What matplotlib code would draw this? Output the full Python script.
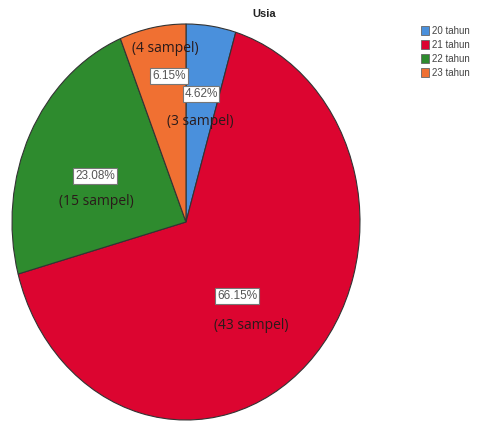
import matplotlib
matplotlib.use("Agg")
import matplotlib.pyplot as plt
from matplotlib.patches import Patch

categories = ["20 tahun", "21 tahun", "22 tahun", "23 tahun"]
counts = [3, 43, 15, 4]
percents = ["4.62%", "66.15%", "23.08%", "6.15%"]
colors = ["#4a90dc", "#dc0530", "#2e8b2e", "#f07032"]

# label anchors in pixels (percent box, count text)
pct_px = [(201, 94), (237, 296), (95, 176), (169, 76)]
cnt_px = [(200, 121), (251, 325), (96, 201), (165, 49)]

W, H = 478, 423
CX, CY, RX, RY = 186, 222, 174, 198

fig = plt.figure(figsize=(W / 100, H / 100), dpi=100)
fig.patch.set_facecolor("white")
ax = fig.add_axes([(CX - RX) / W, (H - CY - RY) / H, 2 * RX / W, 2 * RY / H])
ax.pie(counts, colors=colors, startangle=90, counterclock=False,
       wedgeprops=dict(edgecolor="#333333", linewidth=0.8))
ax.set_aspect("auto")
ax.set_xlim(-1, 1)
ax.set_ylim(-1, 1)
ax.axis("off")


def to_data(px, py):
    return (px - CX) / RX, (CY - py) / RY


for p, n, (px, py), (qx, qy) in zip(percents, counts, pct_px, cnt_px):
    x, y = to_data(px, py)
    ax.text(x, y, p, ha="center", va="center", fontsize=8.5, color="#555555",
            family="Liberation Sans",
            bbox=dict(boxstyle="square,pad=0.15", facecolor="white",
                      edgecolor="#777777", linewidth=0.8))
    x, y = to_data(qx, qy)
    ax.text(x, y, f"({n} sampel)", ha="center", va="center", fontsize=10,
            color="#2a1a1a", family="Open Sans")

fig.text(264 / W, 1 - 14 / H, "Usia", ha="center", va="center",
         fontsize=8, fontweight="bold", color="#222222", family="Liberation Sans")

handles = [Patch(facecolor=c, edgecolor="#666666", linewidth=0.6) for c in colors]
leg = fig.legend(handles, categories, loc="upper left",
                 bbox_to_anchor=(421 / W, 1 - 26 / H), frameon=False,
                 handlelength=0.85, handleheight=0.95,
                 handletextpad=0.25, labelspacing=0.4, borderaxespad=0,
                 borderpad=0,
                 prop={"family": "Liberation Sans", "size": 7})
for t in leg.get_texts():
    t.set_color("#444444")

fig.savefig("out.png", dpi=100, facecolor="white")
